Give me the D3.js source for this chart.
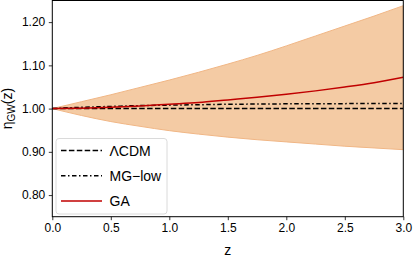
<!DOCTYPE html>
<html><head><meta charset="utf-8">
<script src="https://cdn.jsdelivr.net/npm/d3@7"></script>
<style>body{margin:0;background:#fff}svg{display:block}</style>
</head><body>
<svg id="c" width="413" height="258"></svg>
<script>
const zGrid = [0,0.25,0.5,0.75,1.0,1.25,1.5,1.75,2.0,2.25,2.5,2.75,3.0];
const bandUpper = [1.000,1.016,1.032,1.049,1.066,1.084,1.103,1.123,1.145,1.168,1.191,1.214,1.238];
const bandLower = [1.000,0.984,0.970,0.959,0.949,0.941,0.934,0.928,0.923,0.918,0.913,0.909,0.905];
const lcdm = [1,1,1,1,1,1,1,1,1,1,1,1,1];
const mgLow = [1.000,1.003,1.005,1.007,1.008,1.009,1.010,1.0105,1.011,1.0113,1.0115,1.0117,1.012];
const ga = [1.000,1.001,1.003,1.006,1.010,1.014,1.020,1.026,1.033,1.041,1.050,1.060,1.0725];
const xTicks = [0,0.5,1.0,1.5,2.0,2.5,3.0];
const yTicks = [0.8,0.9,1.0,1.1,1.2];
const legendLabels = ["\u039BCDM","MG\u2212low","GA"];

const svg = d3.select("#c");
const L=52.3,R=403.3,T=0.5,B=216.7;
const x = d3.scaleLinear().domain([0,3]).range([L,R]);
const y = d3.scaleLinear().domain([0.75,1.25]).range([B,T]);

svg.append("clipPath").attr("id","cp").append("rect")
  .attr("x",L).attr("y",T).attr("width",R-L).attr("height",B-T);
const g = svg.append("g").attr("clip-path","url(#cp)");

const band = zGrid.map((z,i)=>({z,u:bandUpper[i],l:bandLower[i]}));
g.append("path").datum(band)
  .attr("d", d3.area().curve(d3.curveMonotoneX).x(d=>x(d.z)).y0(d=>y(d.l)).y1(d=>y(d.u)))
  .attr("fill","#f4cba4").attr("stroke","#f0b685").attr("stroke-width",1);

const DASH="5.5,2.4", DASHDOT="4.5,2.5,1.5,2.5";
const line = d3.line().curve(d3.curveMonotoneX).x(d=>x(d[0])).y(d=>y(d[1]));
function series(vals){return zGrid.map((z,i)=>[z,vals[i]]);}
g.append("path").datum(series(lcdm)).attr("d",line).attr("fill","none")
  .attr("stroke","#000").attr("stroke-width",1.5).attr("stroke-dasharray",DASH);
g.append("path").datum(series(mgLow)).attr("d",line).attr("fill","none")
  .attr("stroke","#000").attr("stroke-width",1.5).attr("stroke-dasharray",DASHDOT);
g.append("path").datum(series(ga)).attr("d",line).attr("fill","none")
  .attr("stroke","#c00000").attr("stroke-width",1.5);

svg.append("rect").attr("x",L).attr("y",T).attr("width",R-L).attr("height",B-T)
  .attr("fill","none").attr("stroke","#000").attr("stroke-width",1);

const font = "Liberation Sans, Arial, sans-serif";
const xa = svg.append("g").attr("transform",`translate(0,${B})`)
  .call(d3.axisBottom(x).tickValues(xTicks).tickFormat(d3.format(".1f")).tickSize(3.5).tickPadding(3.5));
const ya = svg.append("g").attr("transform",`translate(${L},0)`)
  .call(d3.axisLeft(y).tickValues(yTicks).tickFormat(d3.format(".2f")).tickSize(3.5).tickPadding(3.5));
[xa,ya].forEach(a=>{
  a.select(".domain").remove();
  a.selectAll("line").attr("stroke","#000").attr("stroke-width",0.8);
  a.selectAll("text").attr("font-family",font).attr("font-size",12).attr("fill","#000");
});

svg.append("text").attr("x",(L+R)/2).attr("y",255).attr("text-anchor","middle")
  .attr("font-family",font).attr("font-size",14).text("z");
const yl = svg.append("text").attr("transform",`translate(12,${(T+B)/2}) rotate(-90)`)
  .attr("text-anchor","middle").attr("font-family",font).attr("font-size",14);
yl.append("tspan").text("\u03B7");
yl.append("tspan").attr("font-size",10).attr("dy",3).text("GW");
yl.append("tspan").attr("dy",-3).text("(z)");

const lg = svg.append("g");
lg.append("rect").attr("x",56).attr("y",138.5).attr("width",111).attr("height",75.5)
  .attr("rx",3).attr("fill","#fff").attr("fill-opacity",0.8).attr("stroke","#d0d0d0").attr("stroke-width",0.8);
const styles = [{c:"#000",d:DASH},{c:"#000",d:DASHDOT},{c:"#c00000",d:null}];
const ly = [150.5,175.7,201];
legendLabels.forEach((lab,i)=>{
  lg.append("line").attr("x1",61).attr("x2",102).attr("y1",ly[i]).attr("y2",ly[i])
    .attr("stroke",styles[i].c).attr("stroke-width",1.5).attr("stroke-dasharray",styles[i].d);
  lg.append("text").attr("x",109.5).attr("y",ly[i]+5).attr("font-family",font).attr("font-size",14).text(lab);
});
</script>
</body></html>
